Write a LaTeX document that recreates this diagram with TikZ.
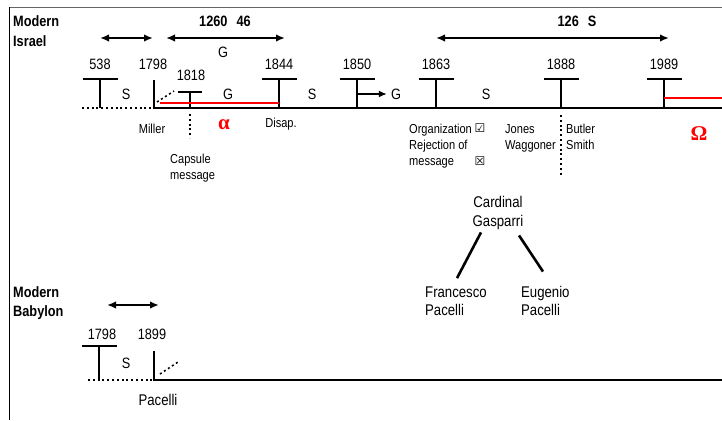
\documentclass[tikz,border=0pt]{standalone}
\usepackage{fontspec}
\setmainfont{Liberation Sans}[FakeStretch=0.85]
\newfontfamily\symfont{DejaVu Sans}
\newfontfamily\greekfont{Liberation Serif}
\usetikzlibrary{arrows.meta,positioning}
\definecolor{MarkRed}{RGB}{255,0,0}
\definecolor{FrameGray}{RGB}{100,100,100}

\begin{document}
\begin{tikzpicture}[x=1pt,y=-1pt,>=Latex,
    era/.style={line width=2.6pt},
    faint/.style={line width=2.2pt,dash pattern=on 2pt off 2.8pt},
    span/.style={<->,line width=2pt,>={Latex[length=9pt,width=7.5pt]}},
    lbl/.style={inner sep=0pt,anchor=base west,font=\fontsize{13}{16}\selectfont},
    big/.style={lbl,font=\fontsize{15.5}{18}\selectfont},
    mid/.style={lbl,anchor=base},
    yr/.style={mid,font=\fontsize{15}{17}\selectfont},
    hd/.style={lbl,font=\fontsize{15}{18}\selectfont\bfseries},
    sg/.style={mid,font=\fontsize{15}{18}\selectfont},
    greek/.style={mid,text=MarkRed,font=\fontsize{21}{24}\selectfont\greekfont\bfseries}]
  \useasboundingbox (0,0) rectangle (722,420);
  \draw[FrameGray,line width=1.8pt] (9.5,7.5) -- (722,7.5);
  \draw[line width=1.8pt] (9.5,420) -- (9.5,6.6);

  % Modern Israel
  \node[hd] (isr1) at (13,27) {Modern};
  \node[hd] (isr2) at (13,46) {Israel};
  \draw[faint] (82,108) -- (153,108);
  \draw[era] (153,108) -- (722,108);
  \foreach \x/\yr in {100/538,279/1844,357/1850,436/1863,561/1888,664/1989}{
    \node[yr] (y\yr) at (\x,69) {\yr};
    \draw[era] (\x-17.5,79) -- (\x+17.5,79) (\x,79) -- (\x,108);
  }
  \node[yr] (y1798) at (153,69) {1798};
  \draw[era] (154,80) -- (154,108);
  \draw[faint,line width=1.6pt] (157,102) -- (174,91);
  \node[yr] (y1818) at (191,81) {1818};
  \draw[era] (178,92) -- (202,92) (190,92) -- (190,108);
  \draw[faint] (190,114) -- (190,138);
  \draw[faint] (561,115) -- (561,175);
  \draw[MarkRed,line width=2.4pt] (160,103) -- (279,103);
  \draw[MarkRed,line width=2.4pt] (664,98) -- (722,98);

  \node[sg] (s1) at (126,99) {S};
  \node[sg] (g1) at (228,99) {G};
  \node[sg] (s2) at (312,99) {S};
  \node[sg] (g2) at (396,99) {G};
  \node[sg] (s3) at (486,99) {S};
  \draw[->,line width=2pt,>={Latex[length=8pt,width=7pt]}] (357,94) -- ([xshift=-4pt]g2.west |- 0,94);

  \draw[span] (100,38) -- (153,38);
  \draw[span] (166,38) -- (285,38);
  \draw[span] (436,38) -- (669,38);
  \node[hd,anchor=base] (p1) at (225,27) {1260\hspace{9pt}46};
  \node[sg] (g0) at (223,57) {G};
  \node[hd,anchor=base] (p2) at (577,27) {126\hspace{9pt}S};

  \node[mid] (miller) at (152,133) {Miller};
  \node[mid] (disap) at (281,127) {Disap.};
  \node[greek] (alpha) at (224,129) {α};
  \node[greek] (omega) at (699,140) {Ω};
  \node[lbl] (caps1) at (170,163) {Capsule};
  \node[lbl] (caps2) at (170,179) {message};

  \node[lbl] (org1) at (409,133) {Organization};
  \node[lbl] (org2) at (409,149) {Rejection of};
  \node[lbl] (org3) at (409,165) {message};
  \node[mid,font=\fontsize{12}{13}\symfont] (ok) at (480,132) {☑};
  \node[mid,font=\fontsize{12}{13}\symfont] (no) at (480,165) {☒};
  \node[lbl] (jon1) at (505,133) {Jones};
  \node[lbl] (jon2) at (505,149) {Waggoner};
  \node[lbl] (but1) at (566,133) {Butler};
  \node[lbl] (but2) at (566,149) {Smith};

  % Gasparri
  \node[big,anchor=base] (gas1) at (498,207) {Cardinal};
  \node[big,anchor=base] (gas2) at (498,226) {Gasparri};
  \node[big] (fra1) at (425,297) {Francesco};
  \node[big] (fra2) at (425,315) {Pacelli};
  \node[big] (eug1) at (521,297) {Eugenio};
  \node[big] (eug2) at (521,315) {Pacelli};
  \draw[era] ([shift={(-17,3)}]gas2.south) -- ([shift={(32,-8)}]fra1.north west);
  \draw[era] ([shift={(21,6)}]gas2.south) -- ([shift={(22,-14)}]eug1.north west);

  % Modern Babylon
  \node[hd] (bab1) at (13,297) {Modern};
  \node[hd] (bab2) at (13,316) {Babylon};
  \draw[span] (107,305) -- (159,305);
  \node[yr] (b1798) at (102,339) {1798};
  \node[yr] (b1899) at (152,339) {1899};
  \draw[era] (82,346) -- (117,346) (99,346) -- (99,380);
  \draw[era] (154,351) -- (154,380);
  \draw[faint] (88,380) -- (153,380);
  \draw[era] (153,380) -- (722,380);
  \draw[faint,line width=1.6pt] (160,374) -- (178,362);
  \node[sg] (s4) at (126,368) {S};
  \node[big,anchor=base] (pac) at (158,405) {Pacelli};
\end{tikzpicture}
\end{document}
